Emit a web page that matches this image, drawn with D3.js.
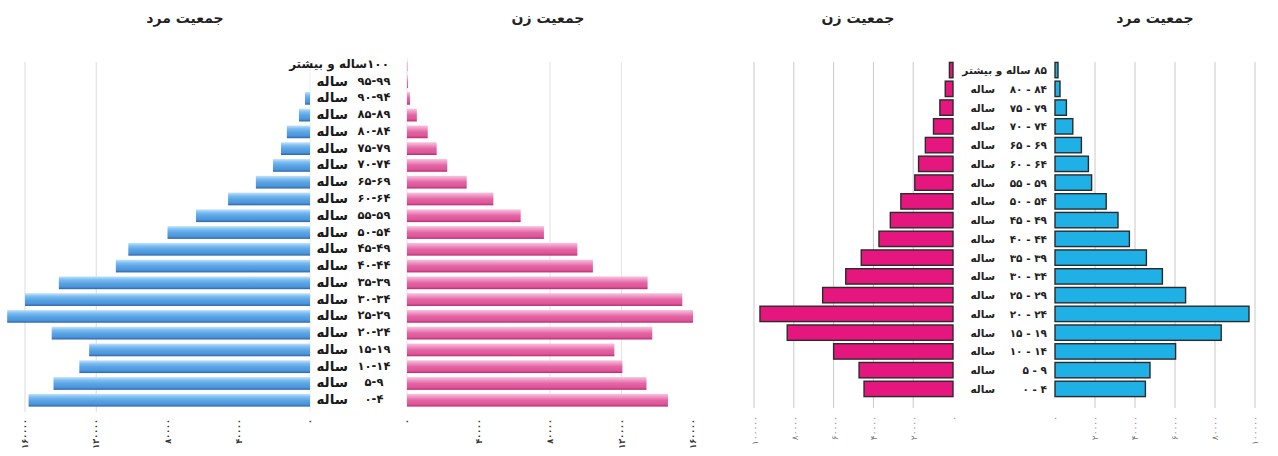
<!DOCTYPE html>
<html>
<head>
<meta charset="utf-8">
<script src="https://cdn.jsdelivr.net/npm/d3@7"></script>
<style>
  body { margin: 0; background: #fff; }
  text { font-family: "DejaVu Sans", sans-serif; }
</style>
</head>
<body>
<div id="chart"></div>
<script>
// ---- left pyramid (5-year groups up to 100+) ----
const leftAges = ["۰-۴", "۵-۹", "۱۰-۱۴", "۱۵-۱۹", "۲۰-۲۴", "۲۵-۲۹", "۳۰-۳۴", "۳۵-۳۹", "۴۰-۴۴", "۴۵-۴۹",
    "۵۰-۵۴", "۵۵-۵۹", "۶۰-۶۴", "۶۵-۶۹", "۷۰-۷۴", "۷۵-۷۹", "۸۰-۸۴", "۸۵-۸۹", "۹۰-۹۴", "۹۵-۹۹", "۱۰۰ساله و بیشتر"];
const leftMale = [158000, 144000, 129500, 124000, 145000, 170000, 160000, 141000, 109000, 102000,
    80000, 64000, 46000, 30400, 20800, 16300, 13000, 6200, 2800, 0, 0];
const leftFemale = [146000, 134000, 120500, 116000, 137200, 160000, 154000, 134600, 104000, 95300,
    76600, 63600, 48300, 33400, 22500, 16600, 11600, 5500, 1700, 500, 200];
const leftTicks = [0, 40000, 80000, 120000, 160000];
const leftMaleGrid = [120000, 160000];
const leftFemaleGrid = [80000, 120000];

// ---- right pyramid (up to 85+) ----
const rightAges = ["۰ - ۴", "۵ - ۹", "۱۰ - ۱۴", "۱۵ - ۱۹", "۲۰ - ۲۴", "۲۵ - ۲۹", "۳۰ - ۳۴", "۳۵ - ۳۹", "۴۰ - ۴۴",
    "۴۵ - ۴۹", "۵۰ - ۵۴", "۵۵ - ۵۹", "۶۰ - ۶۴", "۶۵ - ۶۹", "۷۰ - ۷۴", "۷۵ - ۷۹", "۸۰ - ۸۴", "۸۵ ساله و بیشتر"];
const rightFemale = [44700, 47200, 60000, 83300, 97000, 65500, 53900, 46100, 37200,
    31500, 26200, 19200, 17300, 13900, 9800, 6600, 3900, 1800];
const rightMale = [45200, 47500, 60300, 83100, 97000, 65300, 53700, 45700, 37200,
    31500, 25600, 18300, 16700, 13200, 8900, 5700, 2500, 1500];
const rightTicks = [0, 20000, 40000, 60000, 80000, 100000];

const fa = n => String(n).replace(/\d/g, d => "۰۱۲۳۴۵۶۷۸۹"[d]);
const RLM = "\u200F";

const svg = d3.select("#chart").append("svg")
    .attr("width", 1278)
    .attr("height", 456);

const defs = svg.append("defs");

function grad(id, stops) {
    const g = defs.append("linearGradient").attr("id", id)
        .attr("x1", 0).attr("y1", 0).attr("x2", 0).attr("y2", 1);
    stops.forEach(s => g.append("stop").attr("offset", s[0]).attr("stop-color", s[1]));
}
grad("blueBar", [[0, "#c4e3fb"], [0.25, "#7dbdf0"], [0.5, "#5ba6e6"], [0.82, "#4c93d9"], [1, "#2b64a6"]]);
grad("pinkBar", [[0, "#f7c4df"], [0.25, "#ef93c4"], [0.5, "#e465a3"], [0.82, "#dc5598"], [1, "#b92a72"]]);

// ================= LEFT CHART =================
const lY = d3.scaleBand()
    .domain(leftAges.slice().reverse())
    .range([58.4, 406.6])
    .paddingInner(0.24);
const lMale = d3.scaleLinear().domain([0, 160000]).range([310, 25]);
const lFemale = d3.scaleLinear().domain([0, 160000]).range([407, 693]);

const left = svg.append("g");

left.selectAll(".gm").data(leftMaleGrid).join("line")
    .attr("x1", d => lMale(d)).attr("x2", d => lMale(d))
    .attr("y1", 62).attr("y2", 412)
    .attr("stroke", "#e2e2e2").attr("stroke-width", 1.2);
left.selectAll(".gf").data(leftFemaleGrid).join("line")
    .attr("x1", d => lFemale(d)).attr("x2", d => lFemale(d))
    .attr("y1", 62).attr("y2", 404)
    .attr("stroke", "#e6e6e6").attr("stroke-width", 1.2);
left.append("line")
    .attr("x1", lMale(0)).attr("x2", lMale(0)).attr("y1", 62).attr("y2", 412)
    .attr("stroke", "#ececec");
left.append("line")
    .attr("x1", lFemale(0)).attr("x2", lFemale(0)).attr("y1", 62).attr("y2", 404)
    .attr("stroke", "#f3dbe8");

left.selectAll(".bm").data(leftMale).join("rect")
    .attr("x", d => lMale(d))
    .attr("y", (d, i) => lY(leftAges[i]))
    .attr("width", d => lMale(0) - lMale(d))
    .attr("height", lY.bandwidth())
    .attr("fill", "url(#blueBar)");

left.selectAll(".bf").data(leftFemale).join("rect")
    .attr("x", lFemale(0))
    .attr("y", (d, i) => lY(leftAges[i]))
    .attr("width", d => lFemale(d) - lFemale(0))
    .attr("height", lY.bandwidth())
    .attr("fill", "url(#pinkBar)");

// age labels
leftAges.forEach((a, i) => {
    const cy = lY(a) + lY.bandwidth() / 2 - 1;
    if (a.includes("بیشتر")) {
        left.append("text")
            .attr("x", 389).attr("y", cy)
            .attr("text-anchor", "end")
            .attr("dominant-baseline", "central")
            .attr("font-size", 12).attr("font-weight", "bold").attr("fill", "#1a1a1a")
            .text(RLM + a);
    } else {
        left.append("text")
            .attr("x", 374).attr("y", cy)
            .attr("text-anchor", "middle")
            .attr("dominant-baseline", "central")
            .attr("font-size", 11.5).attr("font-weight", "bold").attr("fill", "#1a1a1a")
            .text(a);
        left.append("text")
            .attr("x", 348).attr("y", cy)
            .attr("text-anchor", "end")
            .attr("dominant-baseline", "central")
            .attr("font-size", 13.5).attr("font-weight", "bold").attr("fill", "#1a1a1a")
            .text("ساله");
    }
});

// tick labels (rotated, reading bottom to top)
function leftTickLabels(scale, cls) {
    left.selectAll("." + cls).data(leftTicks).join("text")
        .attr("class", cls)
        .attr("transform", d => `translate(${scale(d)},419) rotate(-90)`)
        .attr("text-anchor", "end")
        .attr("dominant-baseline", "central")
        .style("font-family", "'DejaVu Sans Condensed', 'DejaVu Sans', sans-serif")
        .attr("font-size", 9).attr("font-weight", "bold").attr("fill", "#333")
        .text(d => fa(d));
}
leftTickLabels(lMale, "tm");
leftTickLabels(lFemale, "tf");

left.append("text").attr("x", 185).attr("y", 18)
    .attr("text-anchor", "middle").attr("dominant-baseline", "central")
    .attr("font-size", 14).attr("font-weight", "bold").attr("fill", "#222")
    .text("جمعیت مرد");
left.append("text").attr("x", 548).attr("y", 18)
    .attr("text-anchor", "middle").attr("dominant-baseline", "central")
    .attr("font-size", 14).attr("font-weight", "bold").attr("fill", "#222")
    .text("جمعیت زن");

// ================= RIGHT CHART =================
const rY = d3.scaleBand()
    .domain(rightAges.slice().reverse())
    .range([62.4, 396.6])
    .paddingInner(0.18);
const rFemale = d3.scaleLinear().domain([0, 100000]).range([953, 754]);
const rMale = d3.scaleLinear().domain([0, 100000]).range([1055, 1255]);

const right = svg.append("g");

right.selectAll(".gf").data(rightTicks.slice(1)).join("line")
    .attr("x1", d => rFemale(d)).attr("x2", d => rFemale(d))
    .attr("y1", 62).attr("y2", 408)
    .attr("stroke", "#c9c9c9").attr("stroke-width", 1);
right.selectAll(".gm").data(rightTicks.slice(1)).join("line")
    .attr("x1", d => rMale(d)).attr("x2", d => rMale(d))
    .attr("y1", 62).attr("y2", 408)
    .attr("stroke", "#c9c9c9").attr("stroke-width", 1);

right.selectAll(".bf").data(rightFemale).join("rect")
    .attr("x", d => rFemale(d))
    .attr("y", (d, i) => rY(rightAges[i]))
    .attr("width", d => rFemale(0) - rFemale(d))
    .attr("height", rY.bandwidth())
    .attr("fill", "#e5177f")
    .attr("stroke", "#2b2b2b").attr("stroke-width", 1.4);

right.selectAll(".bm").data(rightMale).join("rect")
    .attr("x", rMale(0))
    .attr("y", (d, i) => rY(rightAges[i]))
    .attr("width", d => rMale(d) - rMale(0))
    .attr("height", rY.bandwidth())
    .attr("fill", "#1fb0e6")
    .attr("stroke", "#2b2b2b").attr("stroke-width", 1.4);

rightAges.forEach(a => {
    const cy = rY(a) + rY.bandwidth() / 2;
    if (a.includes("بیشتر")) {
        right.append("text")
            .attr("x", 1047).attr("y", cy)
            .attr("text-anchor", "end")
            .attr("dominant-baseline", "central")
            .attr("font-size", 10.5).attr("font-weight", "bold").attr("fill", "#222")
            .text(RLM + a);
    } else {
        right.append("text")
            .attr("x", 1047).attr("y", cy)
            .attr("text-anchor", "end")
            .attr("dominant-baseline", "central")
            .attr("font-size", 10.5).attr("font-weight", "bold").attr("fill", "#222")
            .text(a);
        right.append("text")
            .attr("x", 995).attr("y", cy)
            .attr("text-anchor", "end")
            .attr("dominant-baseline", "central")
            .attr("font-size", 10.5).attr("font-weight", "bold").attr("fill", "#222")
            .text("ساله");
    }
});

right.selectAll(".tf").data(rightTicks).join("text")
    .attr("transform", d => `translate(${rFemale(d) + 1},416) rotate(-90)`)
    .attr("text-anchor", "end")
    .attr("dominant-baseline", "central")
    .attr("font-size", 9).attr("fill", "#777")
    .text(d => fa(d));
right.selectAll(".tm").data(rightTicks).join("text")
    .attr("transform", d => `translate(${rMale(d)},416) rotate(-90)`)
    .attr("text-anchor", "end")
    .attr("dominant-baseline", "central")
    .attr("font-size", 9).attr("fill", "#777")
    .text(d => fa(d));

right.append("text").attr("x", 858).attr("y", 18)
    .attr("text-anchor", "middle").attr("dominant-baseline", "central")
    .attr("font-size", 14).attr("font-weight", "bold").attr("fill", "#222")
    .text("جمعیت زن");
right.append("text").attr("x", 1155).attr("y", 18)
    .attr("text-anchor", "middle").attr("dominant-baseline", "central")
    .attr("font-size", 14).attr("font-weight", "bold").attr("fill", "#222")
    .text("جمعیت مرد");
</script>
</body>
</html>
